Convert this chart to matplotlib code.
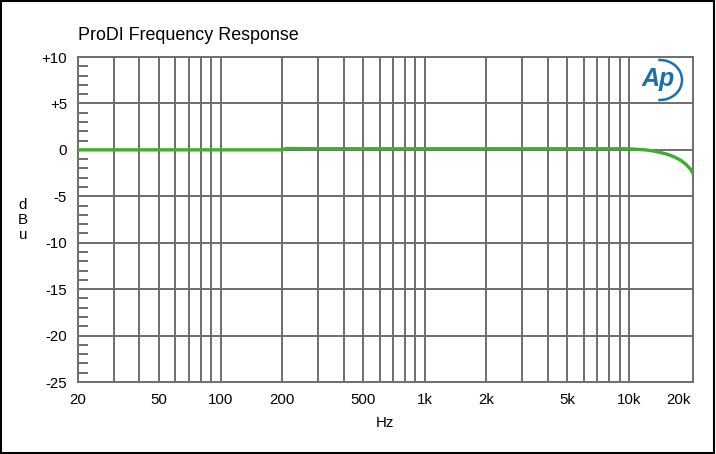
import matplotlib.pyplot as plt
from matplotlib.patches import Arc, Rectangle
from matplotlib.ticker import FixedLocator, NullFormatter

plt.rcParams['font.family'] = ['Liberation Sans', 'DejaVu Sans']

# measured response (Hz, dBu)
freq = [20, 50, 100, 150, 199, 210, 300, 500, 1000, 2000, 5000, 10000,
        11000, 12000, 13000, 14000, 15000, 16000, 17000, 18000, 19000, 20000, 20600]
level = [0.0, 0.0, 0.0, 0.0, 0.0, 0.15, 0.12, 0.12, 0.12, 0.12, 0.12, 0.12,
         0.05, 0.0, -0.1, -0.25, -0.4, -0.6, -0.85, -1.15, -1.55, -2.05, -2.55]

xtick_vals = [20, 50, 100, 200, 500, 1000, 2000, 5000, 10000, 20000]
xtick_labels = ['20', '50', '100', '200', '500', '1k', '2k', '5k', '10k', '20k']
xgrid = [30, 40, 50, 60, 70, 80, 90, 100, 200, 300, 400, 500, 600, 700, 800, 900,
         1000, 2000, 3000, 4000, 5000, 6000, 7000, 8000, 9000, 10000]
ytick_vals = [-25, -20, -15, -10, -5, 0, 5, 10]
ytick_labels = ['-25', '-20', '-15', '-10', '-5', '0', '+5', '+10']

grid_c = '#6e6e6e'

fig = plt.figure(figsize=(7.16, 4.54), dpi=100)
fig.patches.append(Rectangle((0.001, 0.002), 0.996, 0.996, transform=fig.transFigure,
                             fill=False, edgecolor='black', linewidth=1.5))
ax = fig.add_axes([78 / 716, 72 / 454, 615 / 716, 325 / 454])

for f in xgrid:
    ax.axvline(f, color=grid_c, linewidth=1.4, zorder=1)
for v in ytick_vals:
    ax.axhline(v, color=grid_c, linewidth=1.4, zorder=1)

ax.plot(freq, level, color='#3cb02a', linewidth=2.4, zorder=3, solid_capstyle='butt')

ax.set_xscale('log')
ax.set_xlim(20, 20600)
ax.set_ylim(-25, 10)
ax.xaxis.set_major_locator(FixedLocator(xtick_vals))
ax.set_xticklabels(xtick_labels)
ax.xaxis.set_minor_formatter(NullFormatter())
ax.xaxis.set_minor_locator(FixedLocator([]))
ax.get_xticklabels()[-1].set_horizontalalignment('right')
ax.set_yticks(ytick_vals)
ax.set_yticklabels(ytick_labels)
ax.set_yticks([v for v in range(-25, 11) if v % 5 != 0], minor=True)
ax.tick_params(axis='x', which='major', length=0, pad=8, labelsize=10.8)
ax.tick_params(axis='y', which='major', length=0, pad=8, labelsize=10.8)
ax.tick_params(axis='y', which='minor', direction='in', length=7, width=1.4, color=grid_c)
for s in ax.spines.values():
    s.set_color(grid_c)
    s.set_linewidth(1.4)

fig.text(78 / 716, 1 - 35 / 454, 'ProDI Frequency Response', fontsize=12.9,
         ha='left', va='center')
fig.text(385 / 716, 1 - 423 / 454, 'Hz', fontsize=10.8, ha='center', va='center')
fig.text(23 / 716, 1 - 220 / 454, 'd\nB\nu', fontsize=10.8, ha='center', va='center',
         linespacing=1.1)

# Ap logo
lax = fig.add_axes([632 / 716, 1 - 103 / 454, 56 / 716, 46 / 454])
lax.set_xlim(0, 56)
lax.set_ylim(0, 46)
lax.axis('off')
lax.text(26, 24, 'Ap', fontsize=18, fontweight='bold', fontstyle='italic',
         color='#1b6fae', ha='center', va='center')
lax.add_patch(Arc((28, 23), 44, 40, theta1=-95, theta2=95, color='#1b6fae', linewidth=1.8))

fig.savefig('out.png', dpi=100)
